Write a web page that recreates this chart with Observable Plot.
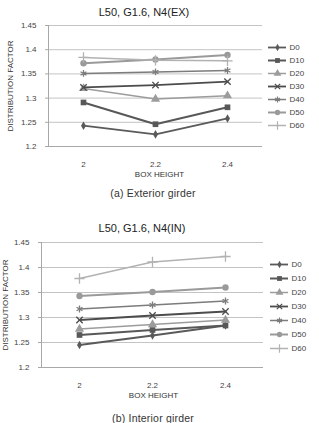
<!DOCTYPE html>
<html>
<head>
<meta charset="utf-8">
<script src="https://cdn.jsdelivr.net/npm/d3@7"></script>
<script src="https://cdn.jsdelivr.net/npm/@observablehq/plot@0.6"></script>
<style>
  body { margin: 0; background: #fff; font-family: "Liberation Sans", Arial, sans-serif; }
  #page { position: relative; width: 319px; height: 423px; overflow: hidden; }
  .abs { position: absolute; }
  .title { font-size: 11px; line-height: 11px; color: #222; white-space: nowrap; transform: translateX(-50%); }
  .caption { font-size: 10.5px; line-height: 11px; color: #333; white-space: nowrap; transform: translateX(-50%); letter-spacing: 0.2px; }
</style>
</head>
<body>
<div id="page"></div>
<script>
// Box heights on the x axis and the series shown in each panel
const boxHeights = ["2", "2.2", "2.4"];
const seriesNames = ["D0", "D10", "D20", "D30", "D40", "D50", "D60"];
const yTicks = [1.2, 1.25, 1.3, 1.35, 1.4, 1.45];

// Exterior girder distribution factors
const extD0  = [1.243, 1.225, 1.258];
const extD10 = [1.291, 1.246, 1.281];
const extD20 = [1.320, 1.298, 1.305];
const extD30 = [1.322, 1.327, 1.334];
const extD40 = [1.351, 1.354, 1.357];
const extD50 = [1.372, 1.380, 1.389];
const extD60 = [1.384, 1.378, 1.377];

// Interior girder distribution factors
const intD0  = [1.245, 1.264, 1.284];
const intD10 = [1.265, 1.275, 1.284];
const intD20 = [1.277, 1.286, 1.295];
const intD30 = [1.295, 1.304, 1.312];
const intD40 = [1.317, 1.325, 1.333];
const intD50 = [1.343, 1.351, 1.360];
const intD60 = [1.378, 1.411, 1.422];

// Series styling
const seriesColors  = ["#5a5a5a", "#585858", "#9c9c9c", "#4c4c4c", "#7c7c7c", "#9a9a9a", "#b2b2b2"];
const seriesSymbols = ["diamond", "square", "triangle", "times", "asterisk", "circle", "plus"];
const seriesWidths  = [1.8, 2.0, 1.5, 1.8, 1.5, 2.0, 1.5];
const seriesRadii   = [2.6, 3.2, 3.4, 3.0, 3.2, 3.2, 3.4];
const strokedSymbols = new Set(["times", "asterisk", "plus"]);

function toRows(valueLists) {
  const rows = [];
  seriesNames.forEach((name, i) => {
    valueLists[i].forEach((v, j) => rows.push({ series: name, box: boxHeights[j], value: v }));
  });
  return rows;
}

const page = document.getElementById("page");
const font = "'Liberation Sans', Arial, sans-serif";

function addText(cls, text, x, y) {
  const d = document.createElement("div");
  d.className = "abs " + cls;
  d.textContent = text;
  d.style.left = x + "px";
  d.style.top = y + "px";
  page.appendChild(d);
}

function drawPanel(cfg) {
  const rows = toRows(cfg.values);
  addText("title", cfg.title, cfg.titleX, cfg.titleY);

  const marks = [
    Plot.gridY(yTicks, { stroke: "#c4c4c4", strokeOpacity: 1, strokeWidth: 1 }),
    Plot.ruleY([1.2], { stroke: "#a8a8a8", strokeWidth: 1 }),
    Plot.axisY({ ticks: yTicks, tickSize: 3, tickPadding: 9, tickFormat: d => String(+d.toFixed(2)),
                 fontSize: 8, fill: "#444", stroke: "#a8a8a8", label: null }),
    Plot.axisX({ tickSize: 0, tickPadding: 15, fontSize: 8, fill: "#444", label: null }),
    Plot.text(["DISTRIBUTION FACTOR"], { frameAnchor: "left", rotate: -90, dx: cfg.yLabelDx,
               textAnchor: "middle", lineAnchor: "middle", fontSize: 8, fill: "#333" }),
    Plot.text(["BOX HEIGHT"], { frameAnchor: "bottom", dy: 28, dx: cfg.xLabelDx,
               textAnchor: "middle", lineAnchor: "middle", fontSize: 8, fill: "#333" })
  ];

  seriesNames.forEach((name, i) => {
    const data = rows.filter(r => r.series === name);
    const sym = seriesSymbols[i];
    const stroked = strokedSymbols.has(sym);
    marks.push(Plot.line(data, { x: "box", y: "value", stroke: seriesColors[i], strokeWidth: seriesWidths[i] }));
    marks.push(Plot.dot(data, {
      x: "box", y: "value", symbol: sym, r: seriesRadii[i],
      fill: stroked ? "none" : seriesColors[i],
      stroke: stroked ? seriesColors[i] : "none",
      strokeWidth: stroked ? 1.3 : 0
    }));
  });

  const chart = Plot.plot({
    width: cfg.width,
    height: cfg.height,
    marginLeft: cfg.frameLeft,
    marginRight: cfg.width - cfg.frameRight,
    marginTop: cfg.frameTop - cfg.top,
    marginBottom: cfg.top + cfg.height - cfg.frameBottom,
    style: { fontFamily: font, background: "transparent", overflow: "visible" },
    x: { type: "point", domain: boxHeights, padding: cfg.padding, axis: null },
    y: { domain: [1.2, 1.45], axis: null },
    marks
  });
  chart.style.position = "absolute";
  chart.style.left = "0px";
  chart.style.top = cfg.top + "px";
  page.appendChild(chart);

  // Left border line of the plotting area
  d3.select(chart).append("line")
    .attr("x1", cfg.frameLeft + 0.5).attr("x2", cfg.frameLeft + 0.5)
    .attr("y1", cfg.frameTop - cfg.top).attr("y2", cfg.frameBottom - cfg.top)
    .attr("stroke", "#a8a8a8");

  // Legend: one row per series with a short line, its marker and the name
  const legendMarks = [];
  seriesNames.forEach((name, i) => {
    const sym = seriesSymbols[i];
    const stroked = strokedSymbols.has(sym);
    legendMarks.push(Plot.ruleY([name], { x1: 0, x2: 1, stroke: seriesColors[i], strokeWidth: seriesWidths[i] }));
    legendMarks.push(Plot.dot([name], {
      x: 0.5, y: d => d, symbol: sym, r: seriesRadii[i] * 0.85,
      fill: stroked ? "none" : seriesColors[i],
      stroke: stroked ? seriesColors[i] : "none",
      strokeWidth: stroked ? 1.2 : 0
    }));
  });
  legendMarks.push(Plot.text(seriesNames, { x: 1, y: d => d, dx: 3, textAnchor: "start", fontSize: 8, fill: "#444" }));

  const legend = Plot.plot({
    width: 53,
    height: cfg.legendHeight,
    marginLeft: 2, marginRight: 33, marginTop: 8, marginBottom: 8,
    style: { fontFamily: font, background: "transparent", overflow: "visible" },
    x: { domain: [0, 1], axis: null },
    y: { type: "point", domain: seriesNames, axis: null },
    marks: legendMarks
  });
  legend.style.position = "absolute";
  legend.style.left = cfg.legendLeft + "px";
  legend.style.top = cfg.legendTop + "px";
  page.appendChild(legend);

  addText("caption", cfg.caption, cfg.captionX, cfg.captionY);
}

drawPanel({
  title: "L50, G1.6, N4(EX)", titleX: 144, titleY: 6.5,
  caption: "(a) Exterior girder", captionX: 153, captionY: 187.5,
  values: [extD0, extD10, extD20, extD30, extD40, extD50, extD60],
  top: 0, width: 266, height: 186,
  frameLeft: 48, frameRight: 262, frameTop: 25, frameBottom: 146,
  padding: 0.47, yLabelDx: -38, xLabelDx: 4,
  legendLeft: 266, legendTop: 29, legendHeight: 113
});

drawPanel({
  title: "L50, G1.6, N4(IN)", titleX: 142, titleY: 223,
  caption: "(b) Interior girder", captionX: 153, captionY: 412.5,
  values: [intD0, intD10, intD20, intD30, intD40, intD50, intD60],
  top: 216, width: 266, height: 194,
  frameLeft: 41, frameRight: 263, frameTop: 242, frameBottom: 367,
  padding: 0.52, yLabelDx: -36, xLabelDx: 1,
  legendLeft: 268, legendTop: 247, legendHeight: 117
});
</script>
</body>
</html>
